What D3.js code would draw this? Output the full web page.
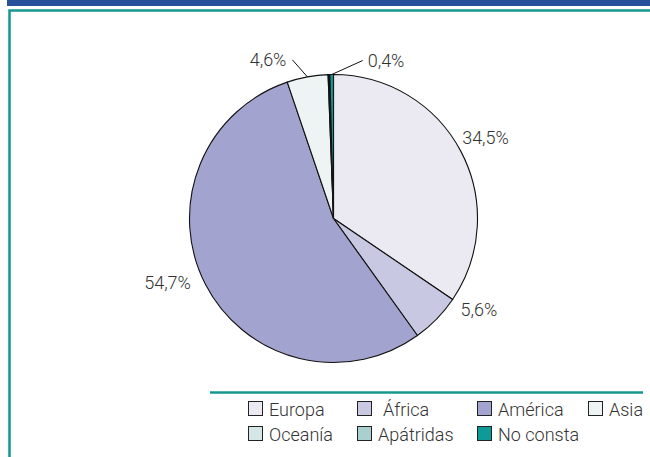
<!DOCTYPE html>
<html>
<head>
<meta charset="utf-8">
<script src="https://cdn.jsdelivr.net/npm/d3@7"></script>
<style>
  body{margin:0;background:#fff;}
  svg{display:block;font-family:Roboto,"Open Sans",sans-serif;font-weight:300;}
</style>
</head>
<body>
<div id="plot"></div>
<script>
// data
var regions = ['Europa','África','América','Asia','Oceanía','Apátridas','No consta'];
var shares  = [34.5, 5.6, 54.7, 4.6, 0.1, 0.1, 0.4];
var labels  = ['34,5%','5,6%','54,7%','4,6%','','','0,4%'];
var colors  = ['#ebeaf2','#c8c8e2','#a3a3cf','#eef4f3','#d4e6e6','#a9cfce','#0e9a97'];

var W = 650, H = 457;
var svg = d3.select('#plot').append('svg').attr('width',W).attr('height',H);

// header band + frame
svg.append('rect').attr('x',7).attr('y',0).attr('width',W-7).attr('height',6).attr('fill','#28509b');
svg.append('path').attr('d','M9.5,'+H+' V10.5 H'+W)
  .attr('fill','none').attr('stroke','#13978f').attr('stroke-width',2.5);

// pie
var cx = 333.5, cy = 218.5, r = 144;
var g = svg.append('g').attr('transform','translate('+cx+','+cy+')');

var data = regions.map(function(d,i){ return {name:d, value:shares[i], label:labels[i], color:colors[i]}; });

var pie = d3.pie().sort(null).value(function(d){ return d.value; });
var arc = d3.arc().innerRadius(0).outerRadius(r);
var arcs = pie(data);

g.selectAll('path.slice').data(arcs).enter().append('path')
  .attr('class','slice')
  .attr('d',arc)
  .attr('fill',function(d){ return d.data.color; })
  .attr('stroke','#111').attr('stroke-width',1.1);

// labels: angle nudges (degrees) and leader lines for thin slices
var nudge = {'África':-12,'América':6};
var leader = {'Asia':[-15,-17],'No consta':[31,-14]};

function pt(a, rad){ return [rad*Math.sin(a), -rad*Math.cos(a)]; }

arcs.forEach(function(d){
  if(!d.data.label) return;
  var mid = (d.startAngle+d.endAngle)/2;
  if(leader[d.data.name]){
    var p0 = pt(mid, r), off = leader[d.data.name];
    var p1 = [p0[0]+off[0], p0[1]+off[1]];
    g.append('line').attr('x1',p0[0]).attr('y1',p0[1]).attr('x2',p1[0]).attr('y2',p1[1])
      .attr('stroke','#111').attr('stroke-width',1);
    var left = off[0] < 0;
    g.append('text').attr('x',p1[0]+(left?-6:5)).attr('y',p1[1]+6)
      .attr('text-anchor',left?'end':'start')
      .style('font-size','18px').attr('fill','#333').text(d.data.label);
  } else {
    var a = mid + (nudge[d.data.name]||0)*Math.PI/180;
    var p = pt(a, d.data.name==='América'?178:172);
    g.append('text').attr('x',p[0]).attr('y',p[1]+6)
      .attr('text-anchor','middle')
      .style('font-size','18px').attr('fill','#333').text(d.data.label);
  }
});

// legend
var legTop = 392.5;
svg.append('line').attr('x1',210).attr('x2',643).attr('y1',legTop).attr('y2',legTop)
  .attr('stroke','#13978f').attr('stroke-width',2.5);

var colX = [248, 357, 477, 588];
var rowY = [401, 426];
var leg = svg.selectAll('g.leg').data(data).enter().append('g').attr('class','leg')
  .attr('transform',function(d,i){
    var row = i < 4 ? 0 : 1, col = i < 4 ? i : i-4;
    return 'translate('+colX[col]+','+rowY[row]+')';
  });
leg.append('rect').attr('x',0.5).attr('y',0.5).attr('width',14).attr('height',14)
  .attr('fill',function(d){ return d.color; }).attr('stroke','#222').attr('stroke-width',1);
leg.append('text').attr('x',function(d){ return d.name==='África'?26:21; }).attr('y',15)
  .style('font-size','18px').attr('fill','#333').text(function(d){ return d.name; });
</script>
</body>
</html>
